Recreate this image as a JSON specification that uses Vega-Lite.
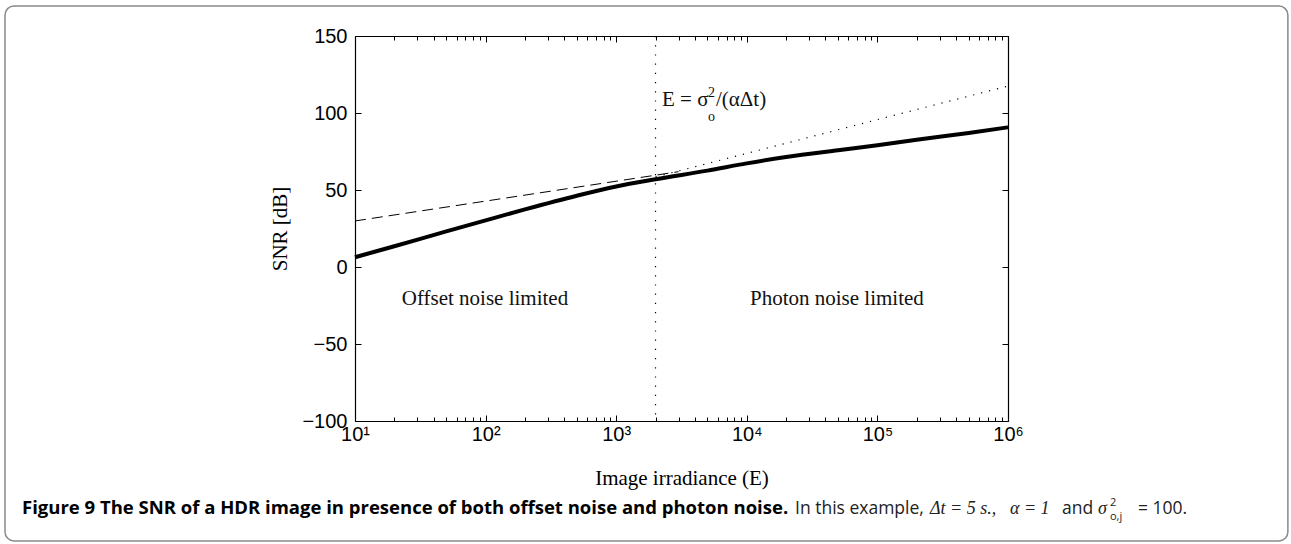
{
  "$schema": "https://vega.github.io/schema/vega-lite/v6.json",
  "width": 653,
  "height": 385,
  "autosize": {"type": "none"},
  "padding": {"left": 355, "top": 36, "right": 283, "bottom": 123},
  "background": "white",
  "config": {"view": {"stroke": null}},
  "datasets": {
    "curves": [
      {"E": 10, "SNR": 6.3, "series": "snr"},
      {"E": 20, "SNR": 13.5, "series": "snr"},
      {"E": 50, "SNR": 23.1, "series": "snr"},
      {"E": 100, "SNR": 30.3, "series": "snr"},
      {"E": 200, "SNR": 37.4, "series": "snr"},
      {"E": 500, "SNR": 46.3, "series": "snr"},
      {"E": 1000, "SNR": 52.3, "series": "snr"},
      {"E": 2000, "SNR": 57, "series": "snr"},
      {"E": 5000, "SNR": 62.6, "series": "snr"},
      {"E": 10000, "SNR": 67.3, "series": "snr"},
      {"E": 20000, "SNR": 71.4, "series": "snr"},
      {"E": 50000, "SNR": 75.8, "series": "snr"},
      {"E": 100000, "SNR": 79, "series": "snr"},
      {"E": 200000, "SNR": 82.6, "series": "snr"},
      {"E": 500000, "SNR": 87, "series": "snr"},
      {"E": 1000000, "SNR": 90.7, "series": "snr"},
      {"E": 10, "SNR": 29.9, "series": "offset"},
      {"E": 100, "SNR": 42.8, "series": "offset"},
      {"E": 1000, "SNR": 55.7, "series": "offset"},
      {"E": 3000, "SNR": 61.9, "series": "offset"},
      {"E": 2000, "SNR": 58.5, "series": "photon"},
      {"E": 10000, "SNR": 73.8, "series": "photon"},
      {"E": 100000, "SNR": 95.7, "series": "photon"},
      {"E": 1000000, "SNR": 117.5, "series": "photon"}
    ],
    "marker": [{"E": 2000}],
    "regions": [
      {"E": 22.8, "SNR": -24.7, "label": "Offset noise limited"},
      {"E": 10580, "SNR": -24.7, "label": "Photon noise limited"}
    ],
    "frame": [{"E1": 0.0209, "E2": 139000000, "S1": 169.5, "S2": -177.9}]
  },
  "layer": [
    {
      "data": {"name": "frame"},
      "mark": {"type": "rect", "fill": null, "stroke": "#8a8a8a", "strokeWidth": 1.5, "cornerRadius": 9, "clip": false},
      "encoding": {
        "x": {"field": "E1", "type": "quantitative", "scale": {"type": "log", "domain": [10, 1000000]}, "axis": null},
        "x2": {"field": "E2"},
        "y": {"field": "S1", "type": "quantitative", "scale": {"domain": [-100, 150]}, "axis": null},
        "y2": {"field": "S2"}
      }
    },
    {
      "data": {"name": "curves"},
      "transform": [{"filter": "datum.series === 'snr'"}],
      "mark": {"type": "line", "color": "black", "strokeWidth": 4, "interpolate": "monotone"},
      "encoding": {
        "x": {"field": "E", "type": "quantitative", "scale": {"type": "log", "domain": [10, 1000000]},
          "axis": {"orient": "bottom", "values": [10, 100, 1000, 10000, 100000, 1000000],
            "labelExpr": "'10' + ['¹','²','³','⁴','⁵','⁶'][round(log(datum.value)/LN10) - 1]",
            "tickSize": -6, "tickColor": "black", "tickWidth": 1, "domainColor": "black", "domainWidth": 1.2,
            "labelFont": "Liberation Sans", "labelFontSize": 20, "labelColor": "black", "labelPadding": 9, "labelFlush": false, "labelOverlap": false,
            "grid": false, "title": "Image irradiance (E)", "titleFont": "Liberation Serif", "titleFontSize": 21, "titleFontWeight": "normal", "titleColor": "black", "titlePadding": 23}},
        "y": {"field": "SNR", "type": "quantitative", "scale": {"domain": [-100, 150]},
          "axis": {"orient": "left", "values": [-100, -50, 0, 50, 100, 150], "tickSize": -6, "tickColor": "black", "domainColor": "black", "domainWidth": 1.2,
            "labelFont": "Liberation Sans", "labelFontSize": 20, "labelColor": "black", "labelPadding": 14, "labelFlush": false,
            "grid": false, "title": "SNR [dB]", "titleFont": "Liberation Serif", "titleFontSize": 21, "titleFontWeight": "normal", "titleColor": "black", "titlePadding": 11}}
      }
    },
    {
      "data": {"name": "curves"},
      "transform": [{"filter": "datum.series === 'offset'"}],
      "mark": {"type": "line", "color": "black", "strokeWidth": 1, "strokeDash": [11, 6]},
      "encoding": {
        "x": {"field": "E", "type": "quantitative", "scale": {"type": "log", "domain": [10, 1000000]},
          "axis": {"orient": "bottom", "values": [20,30,40,50,60,70,80,90,200,300,400,500,600,700,800,900,2000,3000,4000,5000,6000,7000,8000,9000,20000,30000,40000,50000,60000,70000,80000,90000,200000,300000,400000,500000,600000,700000,800000,900000],
            "labels": false, "tickSize": -4, "tickColor": "black", "domain": false, "grid": false, "title": null}},
        "y": {"field": "SNR", "type": "quantitative", "scale": {"domain": [-100, 150]},
          "axis": {"orient": "right", "values": [-100, -50, 0, 50, 100, 150], "labels": false, "tickSize": -6, "tickColor": "black", "domainColor": "black", "domainWidth": 1.2, "grid": false, "title": null}}
      }
    },
    {
      "data": {"name": "curves"},
      "transform": [{"filter": "datum.series === 'photon'"}],
      "mark": {"type": "line", "color": "black", "strokeWidth": 1.2, "strokeDash": [1.2, 7]},
      "encoding": {
        "x": {"field": "E", "type": "quantitative", "scale": {"type": "log", "domain": [10, 1000000]},
          "axis": {"orient": "top", "values": [10, 100, 1000, 10000, 100000, 1000000], "labels": false, "tickSize": -6, "tickColor": "black", "domainColor": "black", "domainWidth": 1.2, "grid": false, "title": null}},
        "y": {"field": "SNR", "type": "quantitative", "scale": {"domain": [-100, 150]}, "axis": null}
      }
    },
    {
      "data": {"name": "marker"},
      "mark": {"type": "rule", "color": "black", "strokeWidth": 1.2, "strokeDash": [1.2, 8]},
      "encoding": {
        "x": {"field": "E", "type": "quantitative", "scale": {"type": "log", "domain": [10, 1000000]},
          "axis": {"orient": "top", "values": [20,30,40,50,60,70,80,90,200,300,400,500,600,700,800,900,2000,3000,4000,5000,6000,7000,8000,9000,20000,30000,40000,50000,60000,70000,80000,90000,200000,300000,400000,500000,600000,700000,800000,900000],
            "labels": false, "tickSize": -4, "tickColor": "black", "domain": false, "grid": false, "title": null}}
      }
    },
    {
      "data": {"name": "regions"},
      "mark": {"type": "text", "align": "left", "baseline": "alphabetic", "font": "Liberation Serif", "fontSize": 21, "color": "#111"},
      "encoding": {
        "x": {"field": "E", "type": "quantitative", "scale": {"type": "log", "domain": [10, 1000000]}, "axis": null},
        "y": {"field": "SNR", "type": "quantitative", "scale": {"domain": [-100, 150]}, "axis": null},
        "text": {"field": "label"}
      }
    },
    {
      "data": {"values": [{"E": 2243, "SNR": 104.5, "t": "E = σ"}, {"E": 5809, "SNR": 104.5, "t": "/(αΔt)"}]},
      "mark": {"type": "text", "align": "left", "baseline": "alphabetic", "font": "Liberation Serif", "fontSize": 21, "color": "#111"},
      "encoding": {
        "x": {"field": "E", "type": "quantitative", "scale": {"type": "log", "domain": [10, 1000000]}, "axis": null},
        "y": {"field": "SNR", "type": "quantitative", "scale": {"domain": [-100, 150]}, "axis": null},
        "text": {"field": "t"}
      }
    },
    {
      "data": {"values": [{"E": 5046, "SNR": 110.4, "t": "2"}, {"E": 5046, "SNR": 94.8, "t": "o"}]},
      "mark": {"type": "text", "align": "left", "baseline": "alphabetic", "font": "Liberation Serif", "fontSize": 14, "color": "#111"},
      "encoding": {
        "x": {"field": "E", "type": "quantitative", "scale": {"type": "log", "domain": [10, 1000000]}, "axis": null},
        "y": {"field": "SNR", "type": "quantitative", "scale": {"domain": [-100, 150]}, "axis": null},
        "text": {"field": "t"}
      }
    },
    {
      "data": {"values": [{"E": 0.02819, "SNR": -160.3, "t": "Figure 9 The SNR of a HDR image in presence of both offset noise and photon noise."}]},
      "mark": {"type": "text", "align": "left", "baseline": "alphabetic", "font": "Open Sans", "fontSize": 18.5, "fontWeight": "bold", "color": "black", "clip": false},
      "encoding": {
        "x": {"field": "E", "type": "quantitative", "scale": {"type": "log", "domain": [10, 1000000]}, "axis": null},
        "y": {"field": "SNR", "type": "quantitative", "scale": {"domain": [-100, 150]}, "axis": null},
        "text": {"field": "t"}
      }
    },
    {
      "data": {"values": [
        {"E": 23390, "SNR": -160.3, "t": "In this example,"},
        {"E": 2591000, "SNR": -160.3, "t": "and"},
        {"E": 9894000, "SNR": -160.3, "t": "= 100."}
      ]},
      "mark": {"type": "text", "align": "left", "baseline": "alphabetic", "font": "Open Sans", "fontSize": 17.5, "color": "#222", "clip": false},
      "encoding": {
        "x": {"field": "E", "type": "quantitative", "scale": {"type": "log", "domain": [10, 1000000]}, "axis": null},
        "y": {"field": "SNR", "type": "quantitative", "scale": {"domain": [-100, 150]}, "axis": null},
        "text": {"field": "t"}
      }
    },
    {
      "data": {"values": [
        {"E": 252800, "SNR": -160.3, "t": "Δt = 5 s.,"},
        {"E": 1035900, "SNR": -160.3, "t": "α = 1"},
        {"E": 4887000, "SNR": -160.3, "t": "σ"}
      ]},
      "mark": {"type": "text", "align": "left", "baseline": "alphabetic", "font": "Liberation Serif", "fontSize": 18, "fontStyle": "italic", "color": "#222", "clip": false},
      "encoding": {
        "x": {"field": "E", "type": "quantitative", "scale": {"type": "log", "domain": [10, 1000000]}, "axis": null},
        "y": {"field": "SNR", "type": "quantitative", "scale": {"domain": [-100, 150]}, "axis": null},
        "text": {"field": "t"}
      }
    },
    {
      "data": {"values": [{"E": 6039000, "SNR": -155.2, "t": "2"}, {"E": 6039000, "SNR": -164.3, "t": "o,j"}]},
      "mark": {"type": "text", "align": "left", "baseline": "alphabetic", "font": "Open Sans", "fontSize": 11, "color": "#222", "clip": false},
      "encoding": {
        "x": {"field": "E", "type": "quantitative", "scale": {"type": "log", "domain": [10, 1000000]}, "axis": null},
        "y": {"field": "SNR", "type": "quantitative", "scale": {"domain": [-100, 150]}, "axis": null},
        "text": {"field": "t"}
      }
    }
  ],
  "resolve": {"axis": {"x": "independent", "y": "independent"}}
}
